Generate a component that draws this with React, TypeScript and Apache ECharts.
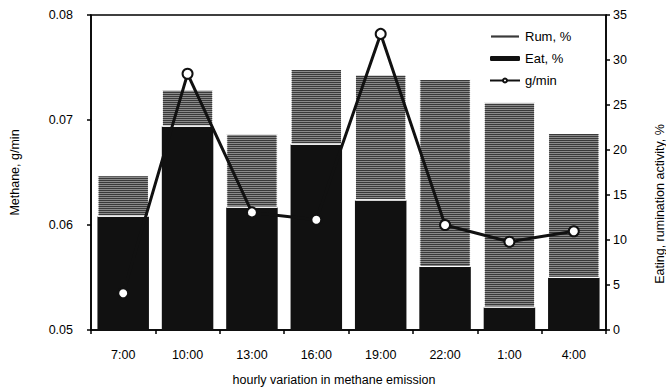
import React, { useEffect, useRef } from "react";
import * as echarts from "echarts";

const categories = ["7:00", "10:00", "13:00", "16:00", "19:00", "22:00", "1:00", "4:00"];
const eatPct = [12.6, 22.6, 13.6, 20.6, 14.4, 7.0, 2.5, 5.8];
const rumPct = [4.6, 4.1, 8.2, 8.4, 14.0, 20.9, 22.8, 16.1];
const methaneGMin = [0.0535, 0.0744, 0.0612, 0.0605, 0.0782, 0.06, 0.0584, 0.0594];

const leftTicks = { min: 0.05, max: 0.08, interval: 0.01 };
const rightTicks = { min: 0, max: 35, interval: 5 };

const FONT = "'Liberation Sans', Arial, sans-serif";

export default function App() {
  const ref = useRef<HTMLDivElement>(null);
  useEffect(() => {
    if (!ref.current) return;
    const chart = echarts.init(ref.current, null, { renderer: "svg" });
    const axisLine = { show: true, lineStyle: { color: "#000", width: 1.5 } };
    const axisTick = { show: true, length: 4, lineStyle: { color: "#000", width: 1.5 } };
    const rumDecal = {
      symbol: "rect",
      symbolSize: 1,
      dashArrayX: [1, 0],
      dashArrayY: [1, 1],
      rotation: 0,
      color: "#3a3a3a",
      backgroundColor: "#a8a8a8",
    };
    chart.setOption({
      animation: false,
      backgroundColor: "#fff",
      textStyle: { fontFamily: FONT },
      grid: {
        left: 91,
        right: 60,
        top: 15,
        bottom: 58,
        show: true,
        borderColor: "#000",
        borderWidth: 1.5,
      },
      legend: {
        orient: "vertical",
        left: 484,
        top: 25,
        itemWidth: 30,
        itemHeight: 5,
        itemGap: 9,
        textStyle: { fontSize: 13, color: "#000", fontFamily: FONT },
        data: ["Rum, %", "Eat, %", "g/min"],
      },
      xAxis: {
        type: "category",
        data: categories,
        boundaryGap: true,
        axisLine,
        axisTick: { ...axisTick, alignWithLabel: false },
        axisLabel: { color: "#000", fontSize: 12.5, margin: 18, fontFamily: FONT },
        splitLine: { show: false },
      },
      yAxis: [
        {
          type: "value",
          position: "left",
          min: leftTicks.min,
          max: leftTicks.max,
          interval: leftTicks.interval,
          name: "Methane, g/min",
          nameLocation: "middle",
          nameGap: 70,
          nameTextStyle: { fontSize: 12.5, color: "#000", fontFamily: FONT },
          axisLine,
          axisTick,
          axisLabel: {
            color: "#000",
            fontSize: 12.5,
            margin: 18,
            fontFamily: FONT,
            formatter: (v: number) => v.toFixed(2),
          },
          splitLine: { show: false },
        },
        {
          type: "value",
          position: "right",
          min: rightTicks.min,
          max: rightTicks.max,
          interval: rightTicks.interval,
          axisLine,
          axisTick,
          axisLabel: { color: "#000", fontSize: 12.5, margin: 7, fontFamily: FONT },
          splitLine: { show: false },
        },
      ],
      graphic: [
        {
          type: "text",
          x: 660,
          y: 204,
          rotation: Math.PI / 2,
          style: {
            text: "Eating, rumination activity, %",
            fill: "#000",
            font: `12.5px ${FONT}`,
            textAlign: "center",
            textVerticalAlign: "middle",
          },
        },
        {
          type: "text",
          x: 334,
          y: 380,
          style: {
            text: "hourly variation in methane emission",
            fill: "#000",
            font: `12.5px ${FONT}`,
            textAlign: "center",
            textVerticalAlign: "middle",
          },
        },
      ],
      series: [
        {
          name: "Eat, %",
          type: "bar",
          yAxisIndex: 1,
          stack: "act",
          barCategoryGap: "20%",
          data: eatPct,
          itemStyle: { color: "#111" },
        },
        {
          name: "Rum, %",
          type: "bar",
          yAxisIndex: 1,
          stack: "act",
          barCategoryGap: "20%",
          data: rumPct,
          itemStyle: {
            color: "#8a8a8a",
            borderColor: "#fff",
            borderWidth: 1,
            decal: rumDecal,
          },
        },
        {
          name: "g/min",
          type: "line",
          yAxisIndex: 0,
          data: methaneGMin,
          symbol: "circle",
          symbolSize: 10,
          lineStyle: { color: "#111", width: 3 },
          itemStyle: { color: "#fff", borderColor: "#111", borderWidth: 2 },
          z: 5,
        },
      ],
    });
    return () => chart.dispose();
  }, []);
  return (
    <div
      ref={ref}
      style={{ position: "fixed", left: 0, top: 0, width: 666, height: 388 }}
    />
  );
}
